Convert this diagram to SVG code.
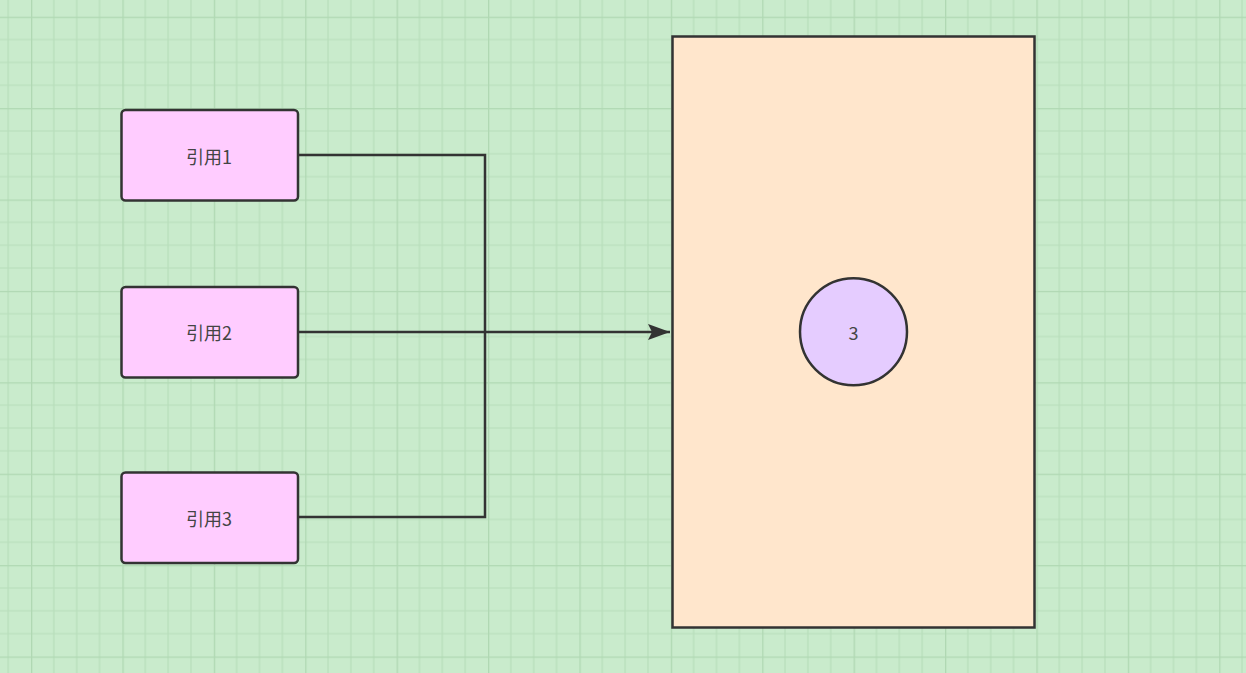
<svg xmlns="http://www.w3.org/2000/svg" width="1246" height="673" viewBox="0 0 1246 673">
<style>
.box{fill:#FFCCFF;stroke:#333333;stroke-width:2.5}
.lbl{font-family:"Noto Sans CJK SC","Liberation Sans",sans-serif;font-size:18px;fill:#444444;text-anchor:middle;dominant-baseline:central}
.conn{fill:none;stroke:#333333;stroke-width:2.5}
</style>
<defs>
<pattern id="grid" patternUnits="userSpaceOnUse" x="31" y="16.7" width="91.4" height="91.4">
<rect width="91.4" height="91.4" fill="#C9EBCC"/>
<path d="M22.85 0V91.4M45.7 0V91.4M68.55 0V91.4M0 22.85H91.4M0 45.7H91.4M0 68.55H91.4" stroke="#B8DEBB" stroke-width="1.2"/>
<path d="M0.6 0V91.4M0 0.6H91.4" stroke="#B0D8B3" stroke-width="1.4"/>
</pattern>
<marker id="arr" markerUnits="userSpaceOnUse" viewBox="0 0 22 16" refX="22" refY="8" markerWidth="22" markerHeight="16" orient="auto">
<path d="M0 0L22 8L0 16L4 8Z" fill="#333333"/>
</marker>
</defs>
<rect width="1246" height="673" fill="url(#grid)"/>
<g id="memory">
<rect x="672.5" y="36.5" width="362" height="591" fill="#FFE6CC" stroke="#333333" stroke-width="2.5"/>
</g>
<g id="connectors">
<path class="conn" d="M298 155H485V517H298"/>
<path class="conn" d="M298 332H670" marker-end="url(#arr)"/>
</g>
<g id="ref1">
<rect class="box" x="121.5" y="110" width="176.5" height="90.5" rx="4"/>
<text class="lbl" x="209" y="155.5">引用1</text>
</g>
<g id="ref2">
<rect class="box" x="121.5" y="287" width="176.5" height="90.5" rx="4"/>
<text class="lbl" x="209" y="332">引用2</text>
</g>
<g id="ref3">
<rect class="box" x="121.5" y="472.5" width="176.5" height="90.5" rx="4"/>
<text class="lbl" x="209" y="518">引用3</text>
</g>
<g id="value">
<circle cx="853.5" cy="331.7" r="53.5" fill="#E5CCFF" stroke="#333333" stroke-width="2.5"/>
<text class="lbl" x="853.5" y="332">3</text>
</g>
</svg>
